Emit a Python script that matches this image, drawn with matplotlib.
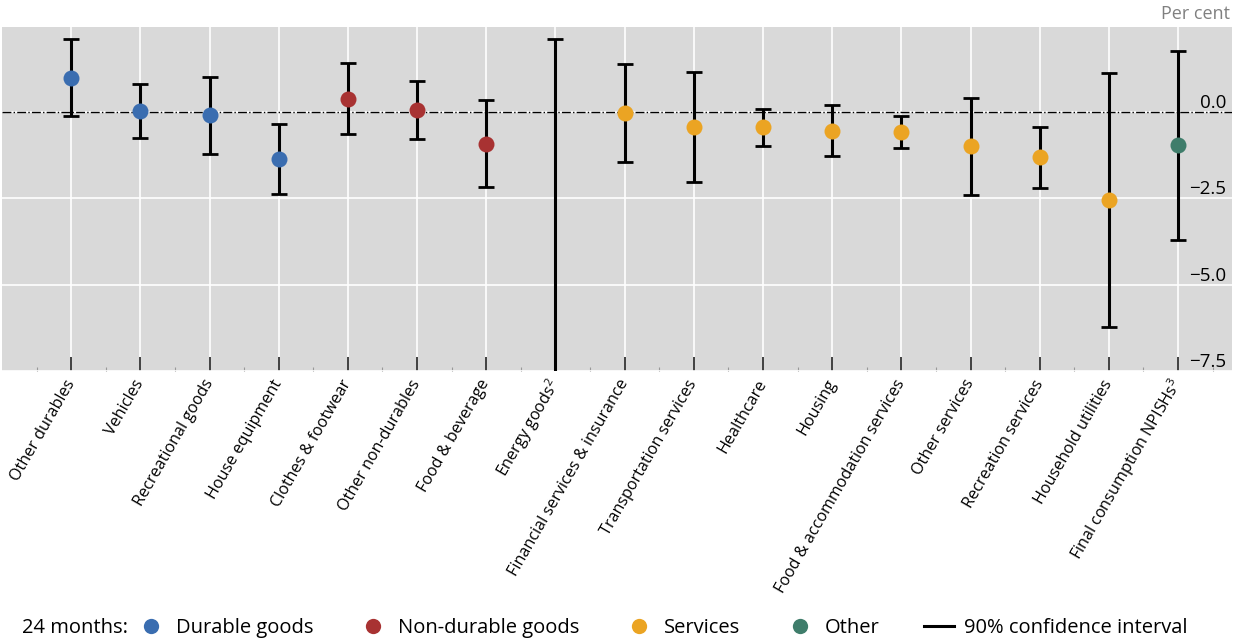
import numpy as np
import matplotlib.pyplot as plt
from matplotlib.lines import Line2D

plt.rcParams['font.family'] = ['Open Sans', 'DejaVu Sans']
plt.rcParams['mathtext.fontset'] = 'custom'
plt.rcParams['mathtext.rm'] = 'Open Sans'
plt.rcParams['mathtext.it'] = 'Open Sans'

categories = ['Other durables', 'Vehicles', 'Recreational goods', 'House equipment',
              'Clothes & footwear', 'Other non-durables', 'Food & beverage',
              'Energy goods$^{2}$', 'Financial services & insurance',
              'Transportation services', 'Healthcare', 'Housing',
              'Food & accommodation services', 'Other services',
              'Recreation services', 'Household utilities',
              'Final consumption NPISHs$^{3}$']
groups = ['Durable goods'] * 4 + ['Non-durable goods'] * 3 + ['Services'] * 9 + ['Other']
# point estimates and 90% confidence bounds (per cent)
estimate = [0.98, 0.03, -0.10, -1.37, 0.38, 0.05, -0.94, -9.0, -0.04, -0.43,
            -0.44, -0.55, -0.58, -0.99, -1.31, -2.56, -0.97]
upper = [2.09, 0.81, 1.00, -0.35, 1.40, 0.90, 0.33, 2.11, 1.37, 1.15,
         0.09, 0.18, -0.11, 0.41, -0.43, 1.13, 1.75]
lower = [-0.13, -0.76, -1.21, -2.39, -0.64, -0.80, -2.17, -20.0, -1.45, -2.02,
         -0.98, -1.28, -1.04, -2.40, -2.21, -6.24, -3.70]
yticks = [0.0, -2.5, -5.0, -7.5]

colors = {'Durable goods': '#3a6db0', 'Non-durable goods': '#a83232',
          'Services': '#eba423', 'Other': '#3f7d6b'}

fig = plt.figure(figsize=(12.36, 6.42), dpi=100)
ax = fig.add_axes([2 / 1236, 1 - 371 / 642, 1230 / 1236, 344 / 642])
ax.set_facecolor('#d9d9d9')
for s in ax.spines.values():
    s.set_visible(False)

x = np.arange(len(categories))
est = np.array(estimate)
lo = est - np.array(lower)
hi = np.array(upper) - est

ax.axhline(0, color='black', lw=1, ls='-.', zorder=2)
ax.errorbar(x, est, yerr=[lo, hi], fmt='none', ecolor='black', elinewidth=2.2,
            capsize=6, capthick=2, zorder=3)
for i in range(len(x)):
    ax.plot(x[i], est[i], 'o', ms=11.5, color=colors[groups[i]], mec='none', zorder=4)

ax.set_xlim(-1, 16.78)
ax.set_ylim(-7.5, 2.45)
ax.set_xticks(x)
ax.set_xticks(np.arange(-0.5, 17, 1), minor=True)
ax.set_xticklabels(categories, rotation=60, ha='right', va='center',
                   rotation_mode='anchor', fontsize=11.6)
ax.tick_params(axis='x', which='major', direction='in', length=10, width=1.2,
               color='#222222', pad=7)
ax.tick_params(axis='x', which='minor', direction='in', length=3, width=0.8, color='#999999')
ax.grid(True, axis='both', which='major', color='white', lw=1.2, zorder=0)
ax.set_axisbelow(True)

ax.yaxis.tick_right()
ax.set_yticks(yticks)
ax.set_yticklabels([f'{v:.1f}'.replace('-', '\u2212') for v in yticks])
ax.tick_params(axis='y', direction='in', length=0, pad=-4, labelsize=13.5)
for lbl in ax.get_yticklabels():
    lbl.set_ha('right')
    lbl.set_va('bottom')

fig.text(1230 / 1236, 1 - 14 / 642, 'Per cent', ha='right', va='center',
         fontsize=13, color='#808080')

handles = [Line2D([], [], ls='none', marker='o', ms=11, color=colors[g], mec='none')
           for g in ['Durable goods', 'Non-durable goods', 'Services', 'Other']]
handles.append(Line2D([], [], color='black', lw=2.2))
labels = ['Durable goods', 'Non-durable goods', 'Services', 'Other', '90% confidence interval']
fig.text(22 / 1236, 1 - 628 / 642, '24 months:', ha='left', va='center', fontsize=14.5)
fig.legend(handles, labels, loc='center left', bbox_to_anchor=(136 / 1236, 1 - 628 / 642),
           ncol=5, frameon=False, fontsize=14.5, handlelength=1.5, handletextpad=0.5,
           columnspacing=2.2, borderaxespad=0, borderpad=0)

fig.savefig('out.png', dpi=100)
